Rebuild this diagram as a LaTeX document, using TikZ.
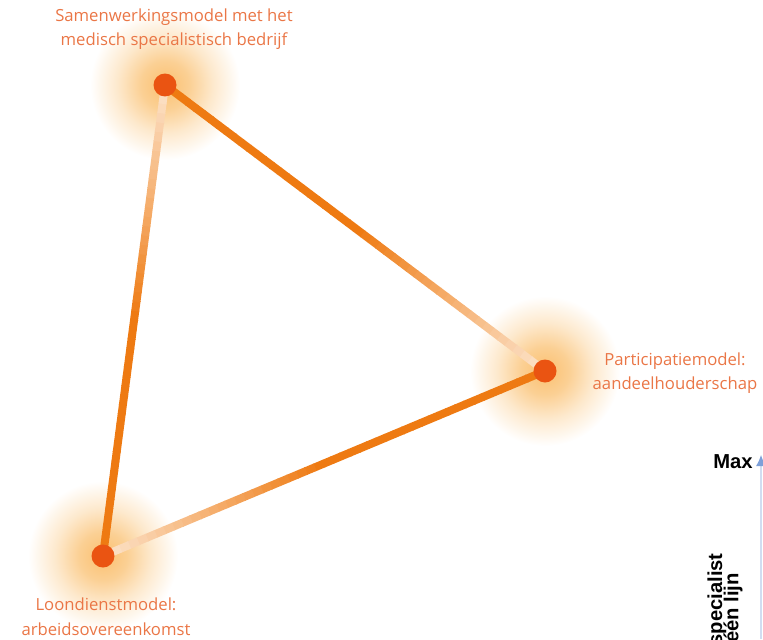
\documentclass[tikz,border=0pt]{standalone}
\usepackage{fontspec}
\newfontfamily\labelfont{Open Sans}
\newfontfamily\chartfont{Liberation Sans}
\usetikzlibrary{arrows.meta,calc}
\definecolor{linecol}{RGB}{238,122,18}
\definecolor{fadecol}{RGB}{252,226,200}
\definecolor{dotcol}{RGB}{234,84,18}
\definecolor{glowcol}{RGB}{250,192,112}
\definecolor{textcol}{RGB}{234,118,70}
\definecolor{axiscol}{RGB}{70,120,200}
\pgfdeclareradialshading{glowshade}{\pgfpointorigin}{color(0bp)=(glowcol); color(8bp)=(glowcol!75!white); color(16bp)=(glowcol!35!white); color(25bp)=(white); color(50bp)=(white)}
\tikzset{
  modeldot/.style={circle, fill=dotcol, minimum size=0.46cm, inner sep=0pt},
  modellabel/.style={text=textcol, font=\labelfont\fontsize{9.5}{14}\selectfont, align=center, inner sep=0pt},
  edgepart/.style={line width=0.16cm, line cap=butt},
  axislabel/.style={font=\chartfont\bfseries\fontsize{11.5}{13}\selectfont, inner sep=0pt},
  sidelabel/.style={font=\chartfont\bfseries\fontsize{11.5}{13}\selectfont, inner sep=0pt, rotate=90, anchor=east},
  axisline/.style={draw=axiscol!25, line width=0.6pt, -{Latex[length=2.2mm, width=2mm, color=axiscol!70]}}
}
\begin{document}
\begin{tikzpicture}[x=0.02cm, y=-0.02cm]
  \useasboundingbox (0,0) rectangle (763,639);
  \clip (0,0) rectangle (763,639);

  % the three models
  \coordinate (samenwerking) at (165,85);
  \coordinate (participatie) at (545,371);
  \coordinate (loondienst) at (103,556);

  % glow
  \foreach \m in {samenwerking, participatie, loondienst}
    \shade[shading=glowshade] (\m) circle (1.5cm);

  % edges, solid at the start and faded at the end
  \foreach \a/\b in {samenwerking/participatie, participatie/loondienst, loondienst/samenwerking}
    \foreach \i in {0,...,49} {
      \pgfmathtruncatemacro\p{min(100,100*(49-\i)/24)}
      \pgfmathsetmacro\s{\i/50}
      \pgfmathsetmacro\e{(\i+1.1)/50}
      \draw[edgepart, linecol!\p!fadecol] ($(\a)!\s!(\b)$) -- ($(\a)!\e!(\b)$);
    }

  \node[modeldot] (samenwerkingdot) at (samenwerking) {};
  \node[modeldot] (participatiedot) at (participatie) {};
  \node[modeldot] (loondienstdot) at (loondienst) {};

  \node[modellabel] (samenwerkinglabel) at (174,29) {Samenwerkingsmodel met het\\medisch specialistisch bedrijf};
  \node[modellabel] (participatielabel) at (675,373) {Participatiemodel:\\aandeelhouderschap};
  \node[modellabel] (loondienstlabel) at (106,617) {Loondienstmodel:\\arbeidsovereenkomst};

  % part of the next chart
  \coordinate (axisbottom) at (761,639);
  \coordinate (axistop) at (761,455);
  \draw[axisline] (axisbottom) -- (axistop);
  \node[axislabel] (maxlabel) at (733,462) {Max};
  \node[sidelabel] (speclabel) at (717,553) {specialist};
  \node[sidelabel] (lijnlabel) at (733,573) {één lijn};
\end{tikzpicture}
\end{document}
